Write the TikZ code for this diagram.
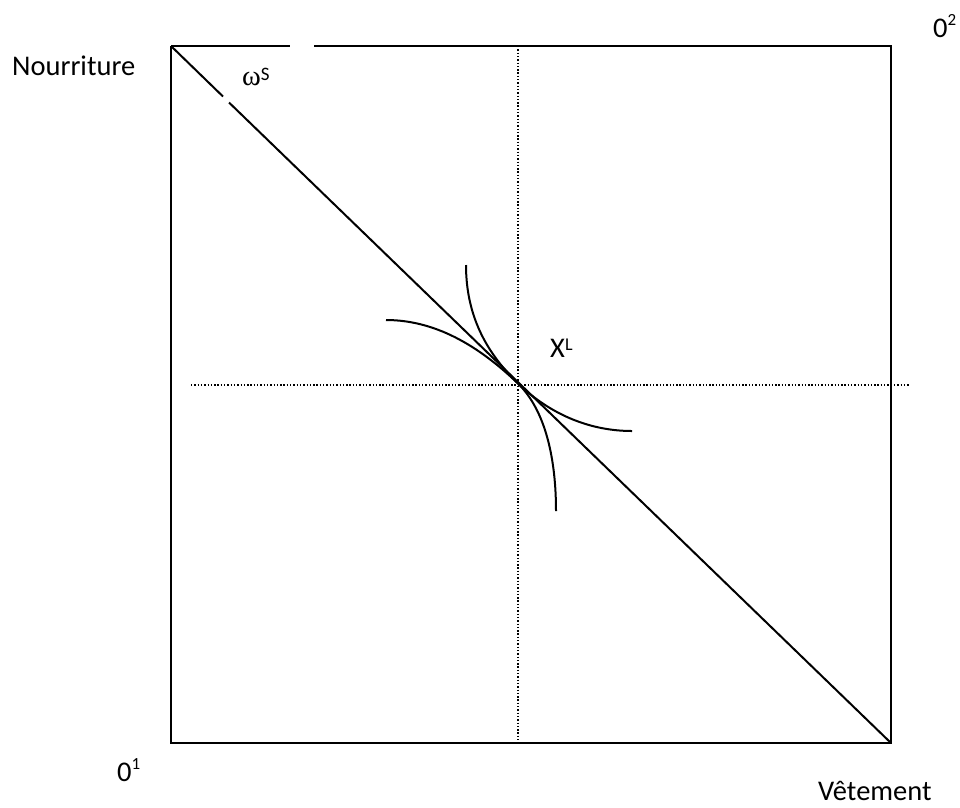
\documentclass[tikz,border=0pt]{standalone}
\usepackage{fontspec}
\setmainfont{Carlito}
\newfontfamily\greekserif{Liberation Serif}
\tikzset{
  mainline/.style={line width=2pt, black},
  guide/.style={line width=1.5pt, black, dash pattern=on 1.4pt off 1.9pt},
  curve/.style={line width=2pt, black},
  lbl/.style={inner sep=0pt, anchor=base west, font=\fontsize{28.5}{34}\selectfont}
}
\newcommand{\supr}[3]{\raisebox{#1}{\fontsize{#2}{18}\selectfont #3}}
\begin{document}
\begin{tikzpicture}[x=1pt,y=-1pt]
\useasboundingbox (0,0) rectangle (960,807);
% corners
\coordinate (TL) at (171,46);
\coordinate (TR) at (891,46);
\coordinate (BL) at (171,743);
\coordinate (BR) at (891,743);
\coordinate (gapA) at (290,46);
\coordinate (gapB) at (314,46);
\coordinate (dgA) at (223,96.5);
\coordinate (dgB) at (229,102.5);
\coordinate (P) at (518,383.5);
% box
\draw[mainline] (TL) -- (gapA);
\draw[mainline] (gapB) -- (TR) -- (BR) -- (BL) -- (TL);
% diagonal
\draw[mainline] (TL) -- (dgA);
\draw[mainline] (dgB) -- (BR);
% dotted guides
\coordinate (vT) at (518,46);
\coordinate (vB) at (518,743);
\coordinate (hL) at (191,385);
\coordinate (hR) at (910,385);
\draw[guide] (vT) -- (vB);
\draw[guide] (hL) -- (hR);
% curves
\coordinate (c1a) at (386,320);
\coordinate (c1b) at (632,431);
\coordinate (c2a) at (466,265);
\coordinate (c2b) at (556,511);
\draw[curve] (c1a) .. controls (440,320) and (484,351) .. (P) .. controls (552,416) and (592,431) .. (c1b);
\draw[curve] (c2a) .. controls (466,320) and (490,356) .. (P) .. controls (546,411) and (556,460) .. (c2b);
% labels
\node[lbl] (food) at (12,75) {Nourriture};
\node[lbl] (cloth) at (818,800) {Vêtement};
\node[lbl] (o1) at (117,781) {0\supr{12pt}{17}{1}};
\node[lbl] (o2) at (933,37) {0\supr{12pt}{17}{2}};
\node[lbl] (om) at (242,85) {{\greekserif ω}\supr{5pt}{19}{S}};
\node[lbl] (xl) at (550,357) {X\supr{7pt}{18}{L}};
\end{tikzpicture}
\end{document}
